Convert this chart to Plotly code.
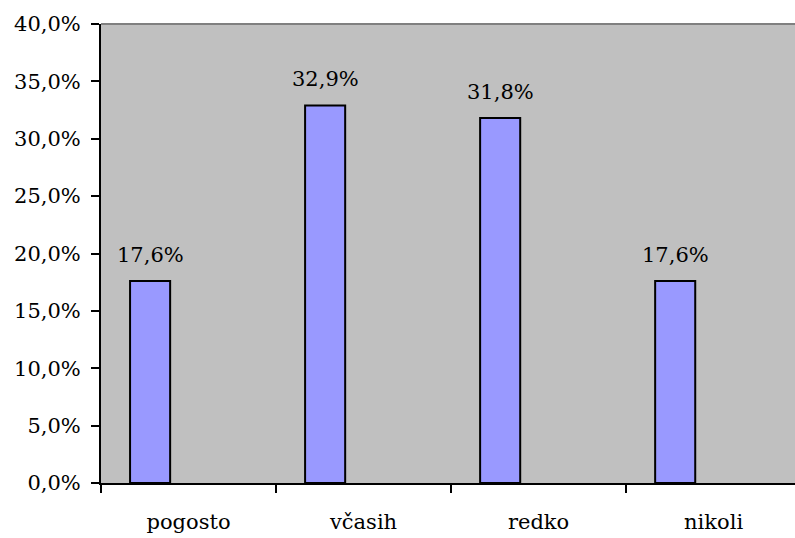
import plotly.graph_objects as go

categories = ["pogosto", "včasih", "redko", "nikoli"]
values = [17.6, 32.9, 31.8, 17.6]
y_ticks = [0, 5, 10, 15, 20, 25, 30, 35, 40]
y_tick_labels = [f"{t:.1f}".replace(".", ",") + "%" for t in y_ticks]

BAR_OFFSET = -0.334
BAR_WIDTH = 0.229
FONT = "DejaVu Serif"
FSIZE = 21

fig = go.Figure()
fig.add_trace(go.Bar(
    x=categories, y=values,
    offset=BAR_OFFSET, width=BAR_WIDTH,
    marker=dict(color="#9999FF", line=dict(color="black", width=2)),
    hoverinfo="skip",
))

for i, v in enumerate(values):
    fig.add_annotation(
        x=i + BAR_OFFSET + BAR_WIDTH / 2, y=v,
        text=f"{v:.1f}".replace(".", ",") + "%",
        showarrow=False, yanchor="bottom", yshift=12,
        font=dict(family=FONT, size=FSIZE, color="black"),
    )

fig.add_shape(type="line", xref="paper", yref="paper", x0=0, x1=1, y0=1, y1=1,
              line=dict(color="#808080", width=2))

fig.update_layout(
    width=795, height=538,
    margin=dict(l=101, r=0, t=24, b=55),
    plot_bgcolor="#C0C0C0", paper_bgcolor="white",
    showlegend=False,
    font=dict(family=FONT, size=FSIZE, color="black"),
    xaxis=dict(
        type="category", range=[-0.5, 3.465],
        tickson="boundaries", ticks="outside", ticklen=8, tickwidth=2, tickcolor="black",
        showline=True, linecolor="black", linewidth=2,
        showgrid=False, ticklabelstandoff=19,
        tickfont=dict(family=FONT, size=FSIZE, color="black"),
    ),
    yaxis=dict(
        range=[0, 40], tickmode="array", tickvals=y_ticks, ticktext=y_tick_labels,
        ticks="outside", ticklen=8, tickwidth=2, tickcolor="black",
        showline=True, linecolor="black", linewidth=2,
        showgrid=False, zeroline=False, ticklabelstandoff=6,
        tickfont=dict(family=FONT, size=FSIZE, color="black"),
    ),
)

fig.write_html("out.html")
